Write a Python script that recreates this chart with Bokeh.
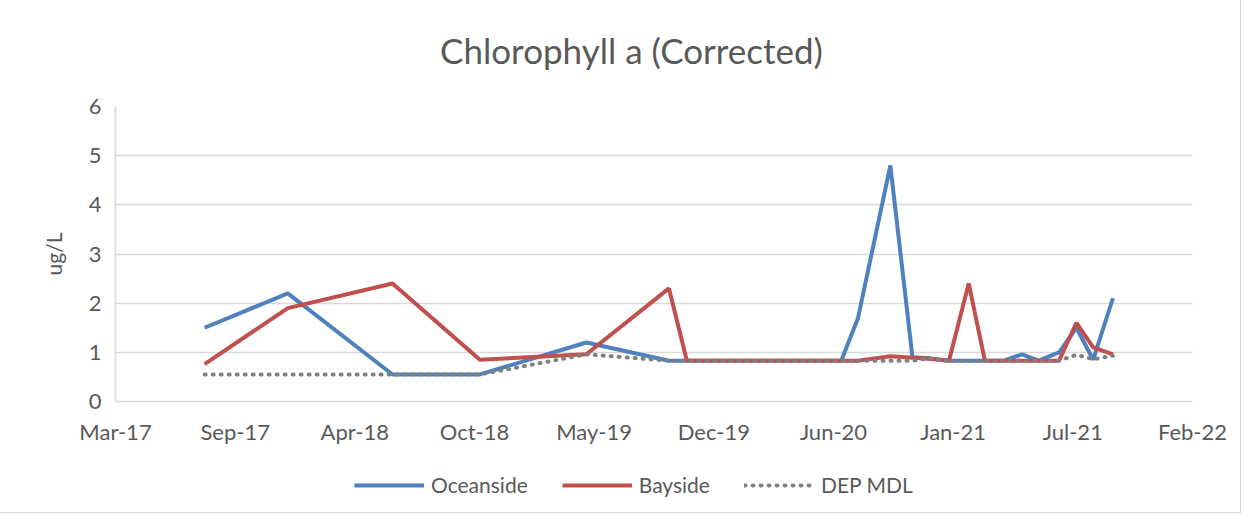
from datetime import datetime, timedelta
import pandas as pd
from bokeh.plotting import figure
from bokeh.layouts import column
from bokeh.models import (FixedTicker, DatetimeTickFormatter, Legend, LegendItem,
                          Range1d, ColumnDataSource, Label)
from bokeh.embed import file_html
from bokeh.resources import INLINE

# ---- data ----
dates = ["2017-08-04", "2017-12-21", "2018-06-14", "2018-11-07", "2019-05-04",
         "2019-09-19", "2019-10-19", "2020-07-03", "2020-07-31", "2020-09-23",
         "2020-10-30", "2020-11-26", "2020-12-30", "2021-02-01", "2021-02-28",
         "2021-04-01", "2021-05-01", "2021-05-29", "2021-07-02", "2021-07-31",
         "2021-08-28", "2021-09-30"]
oceanside = [1.5, 2.2, 0.55, 0.55, 1.2, 0.83, 0.83, 0.83, 1.7, 4.8,
             0.9, 0.88, 0.83, 0.83, 0.83, 0.83, 0.96, 0.83, 1.0, 1.5,
             0.85, 2.1]
bayside = [0.76, 1.9, 2.4, 0.85, 0.96, 2.3, 0.83, 0.83, 0.83, 0.92,
           0.89, 0.87, 0.83, 2.4, 0.83, 0.83, 0.83, 0.83, 0.83, 1.6,
           1.1, 0.96]
dep_mdl = [0.55, 0.55, 0.55, 0.55, 0.96, 0.83, 0.83, 0.83, 0.83, 0.83,
           0.83, 0.88, 0.83, 0.83, 0.83, 0.83, 0.83, 0.83, 0.83, 0.95,
           0.86, 0.93]
series_names = ["Oceanside", "Bayside", "DEP MDL"]
series_colors = ["#4f81bd", "#c0504d", "#808080"]
y_ticks = [0, 1, 2, 3, 4, 5, 6]
x_start = "2017-03-08"
x_step_days = 200
x_tick_count = 10
title_text = "Chlorophyll a (Corrected)"

src = ColumnDataSource(dict(x=pd.to_datetime(dates), o=oceanside, b=bayside, m=dep_mdl))

start = datetime.fromisoformat(x_start)
tick_dates = [start + timedelta(days=x_step_days * k) for k in range(x_tick_count)]
epoch = datetime(1970, 1, 1)
tick_ms = [(d - epoch).total_seconds() * 1000 for d in tick_dates]

FONT = "Lato"
TXT = "#595959"
GRID = "#d9d9d9"
W = 1240


def strip(h):
    f = figure(width=W, height=h, output_backend="svg", toolbar_location=None,
               min_border=0, min_border_left=0, min_border_right=0,
               min_border_top=0, min_border_bottom=0,
               x_axis_location=None, y_axis_location=None,
               x_range=Range1d(0, 1), y_range=Range1d(0, 1))
    f.grid.visible = False
    f.outline_line_color = None
    return f


# ---- title strip ----
tt = strip(90)
tt.add_layout(Label(x=516, y=41, x_units="screen", y_units="screen",
                    text=title_text, text_align="center", text_baseline="middle",
                    text_font=FONT, text_font_size="35px", text_color=TXT))

# ---- main chart ----
p = figure(width=W, height=361, x_axis_type="datetime",
           output_backend="svg", toolbar_location=None,
           x_range=Range1d(tick_ms[0], tick_ms[-1]),
           y_range=Range1d(y_ticks[0], y_ticks[-1]),
           min_border_left=115, min_border_right=48,
           min_border_top=16, min_border_bottom=50)

p.outline_line_color = None
p.xgrid.grid_line_color = None
p.ygrid.grid_line_color = GRID
p.ygrid.grid_line_width = 1.5

p.xaxis.ticker = FixedTicker(ticks=tick_ms)
fmt = "%b-%y"
p.xaxis.formatter = DatetimeTickFormatter(days=fmt, months=fmt, years=fmt,
                                          hours=fmt, minutes=fmt)
p.yaxis.ticker = FixedTicker(ticks=y_ticks)
for ax in (p.xaxis, p.yaxis):
    ax.axis_line_color = GRID
    ax.axis_line_width = 1.5
    ax.major_tick_line_color = None
    ax.minor_tick_line_color = None
    ax.major_label_text_font = FONT
    ax.major_label_text_font_size = "22px"
    ax.major_label_text_color = TXT
p.xaxis.major_label_standoff = 10
p.yaxis.major_label_standoff = 8
p.yaxis.axis_label = "ug/L"
p.yaxis.axis_label_text_font = FONT
p.yaxis.axis_label_text_font_size = "21px"
p.yaxis.axis_label_text_font_style = "normal"
p.yaxis.axis_label_text_color = TXT
p.yaxis.axis_label_standoff = 20

p.line("x", "o", source=src, line_color=series_colors[0], line_width=4)
p.line("x", "b", source=src, line_color=series_colors[1], line_width=4)
p.line("x", "m", source=src, line_color=series_colors[2], line_width=4,
       line_dash="1 7", line_cap="round")

# ---- legend strip below the chart ----
lg = strip(61)
off = dict(x=[-5, -4], y=[-5, -4])  # outside the visible range: legend swatches only
l_o = lg.line(x="x", y="y", source=ColumnDataSource(off), line_color=series_colors[0], line_width=4)
l_b = lg.line(x="x", y="y", source=ColumnDataSource(off), line_color=series_colors[1], line_width=4)
l_m = lg.line(x="x", y="y", source=ColumnDataSource(off), line_color=series_colors[2], line_width=4,
              line_dash="1 7", line_cap="round")
legend = Legend(items=[LegendItem(label=series_names[0], renderers=[l_o]),
                       LegendItem(label=series_names[1], renderers=[l_b]),
                       LegendItem(label=series_names[2], renderers=[l_m])],
                orientation="horizontal", location=(239, 15),
                label_text_font=FONT, label_text_font_size="21px",
                label_text_color=TXT, glyph_width=70, glyph_height=20,
                label_standoff=7, spacing=34, border_line_color=None,
                background_fill_alpha=0, margin=0, padding=4)
lg.add_layout(legend, "center")

layout = column(tt, p, lg, spacing=0)
layout.styles = {"outline": "1px solid #d9d9d9"}

open("out.html", "w").write(file_html(layout, INLINE))
